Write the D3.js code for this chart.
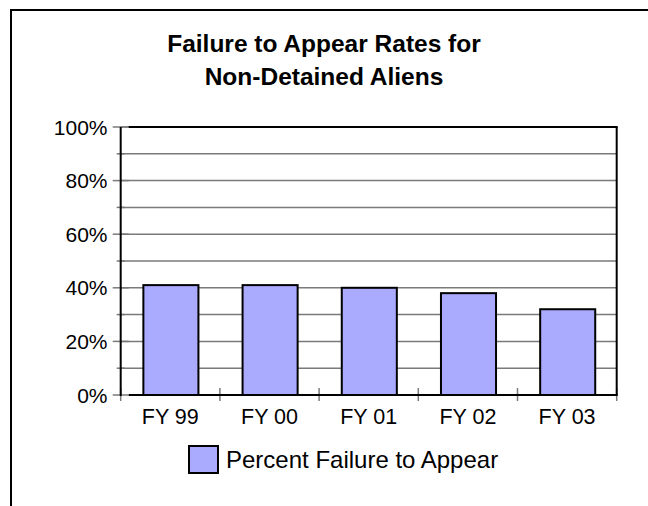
<!DOCTYPE html>
<html><head><meta charset="utf-8">
<script src="https://cdn.jsdelivr.net/npm/d3@7"></script>
<style>html,body{margin:0;padding:0;background:#fff;} svg{display:block;}</style>
</head><body>
<script>
const categories = ["FY 99", "FY 00", "FY 01", "FY 02", "FY 03"];
const values = [41, 41, 40, 38, 32];
const yTicks = [0, 20, 40, 60, 80, 100];
const minorTicks = [10, 30, 50, 70, 90];
const seriesName = "Percent Failure to Appear";
const titleLines = ["Failure to Appear Rates for", "Non-Detained Aliens"];

const W = 648, H = 506;
const svg = d3.select("body").append("svg").attr("width", W).attr("height", H);
const font = "Liberation Sans, Arial, Helvetica, sans-serif";

// outer frame
svg.append("path").attr("d", `M11,${H+5} L11,10 L${W+5},10`).attr("fill","none").attr("stroke","#000").attr("stroke-width",2);

// title
svg.append("text").attr("x", 324).attr("y", 0).attr("text-anchor","middle")
  .attr("font-family", font).attr("font-weight","bold").attr("font-size", 24.5)
  .selectAll("tspan").data(titleLines).join("tspan")
  .attr("x", 324).attr("y", (d,i) => 52 + i*33).text(d => d);

const x0 = 120.7, x1 = 616.7, yTop = 127, yBot = 395;
const x = d3.scaleBand().domain(categories).range([x0, x1]).padding(0);
const y = d3.scaleLinear().domain([0, 100]).range([yBot, yTop]);
const grey = "#7a7a7a";

// gridlines (major + minor)
const g = svg.append("g");
g.selectAll("line.grid").data(yTicks.concat(minorTicks).filter(v => v > 0)).join("line")
  .attr("x1", x0).attr("x2", x1).attr("y1", d => y(d)).attr("y2", d => y(d))
  .attr("stroke", grey).attr("stroke-width", 1.5);
// y ticks crossing axis
g.selectAll("line.mt").data(yTicks).join("line")
  .attr("x1", x0 - 8).attr("x2", x0 + 8).attr("y1", d => y(d)).attr("y2", d => y(d))
  .attr("stroke", grey).attr("stroke-width", 1.5);
g.selectAll("line.nt").data(minorTicks).join("line")
  .attr("x1", x0 - 4).attr("x2", x0 + 4).attr("y1", d => y(d)).attr("y2", d => y(d))
  .attr("stroke", grey).attr("stroke-width", 1.5);
// x ticks at category boundaries
const bounds = categories.map(c => x(c)).concat([x1]);
g.selectAll("line.xt").data(bounds).join("line")
  .attr("x1", d => d).attr("x2", d => d).attr("y1", yBot - 7).attr("y2", yBot + 6)
  .attr("stroke", grey).attr("stroke-width", 1.5);

// bars
const bw = x.bandwidth() * 0.555;
svg.append("g").selectAll("rect").data(values).join("rect")
  .attr("x", (d,i) => x(categories[i]) + (x.bandwidth() - bw)/2 + 0.6)
  .attr("width", bw)
  .attr("y", d => y(d)).attr("height", d => yBot - y(d))
  .attr("fill", "#aaaaff").attr("stroke", "#000").attr("stroke-width", 2);

// plot border (left, bottom, top, right)
const ax = svg.append("g").attr("stroke", "#000").attr("stroke-width", 2).attr("fill","none");
ax.append("line").attr("x1", x0).attr("x2", x0).attr("y1", yTop).attr("y2", yBot + 1);
ax.append("line").attr("x1", x0 + 8).attr("x2", x1 + 1).attr("y1", yBot).attr("y2", yBot);
ax.append("line").attr("x1", x0 + 8).attr("x2", x1 + 1).attr("y1", yTop).attr("y2", yTop);
ax.append("line").attr("x1", x1).attr("x2", x1).attr("y1", yTop).attr("y2", yBot);

// y labels
svg.append("g").selectAll("text").data(yTicks).join("text")
  .attr("x", 107.5).attr("y", d => y(d) + 7.5).attr("text-anchor","end")
  .attr("font-family", font).attr("font-size", 21).text(d => d + "%");

// x labels
svg.append("g").selectAll("text").data(categories).join("text")
  .attr("x", d => x(d) + x.bandwidth()/2).attr("y", 423.5).attr("text-anchor","middle")
  .attr("font-family", font).attr("font-size", 21.5).text(d => d);

// legend
svg.append("rect").attr("x", 189).attr("y", 446).attr("width", 29).attr("height", 27)
  .attr("fill", "#aaaaff").attr("stroke", "#000").attr("stroke-width", 2);
svg.append("text").attr("x", 226).attr("y", 468).attr("font-family", font).attr("font-size", 24)
  .text(seriesName);
</script>
</body></html>
